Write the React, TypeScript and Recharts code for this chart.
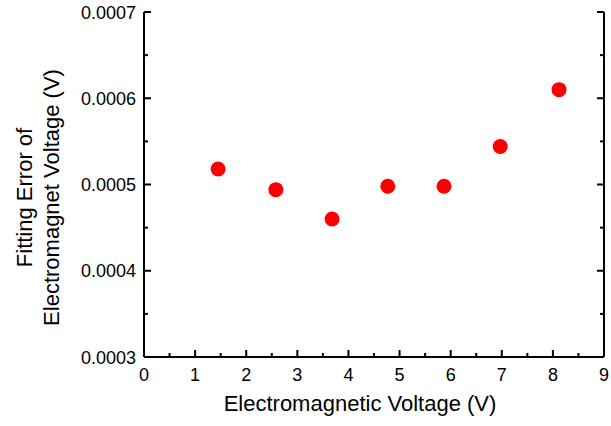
import React from 'react';
import { ScatterChart, Scatter, XAxis, YAxis } from 'recharts';

// Electromagnetic voltage (V)
const voltages = [1.45, 2.58, 3.68, 4.77, 5.87, 6.97, 8.12];
// Fitting error (V)
const errors = [0.000518, 0.000494, 0.00046, 0.000498, 0.000498, 0.000544, 0.00061];

const xTicks = [0, 0.5, 1, 1.5, 2, 2.5, 3, 3.5, 4, 4.5, 5, 5.5, 6, 6.5, 7, 7.5, 8, 8.5, 9];
const yTicks = [0.0003, 0.00035, 0.0004, 0.00045, 0.0005, 0.00055, 0.0006, 0.00065, 0.0007];

const data = voltages.map((v, i) => ({ x: v, y: errors[i] }));

const FONT = '"Liberation Sans", Arial, sans-serif';
const MAJOR = 7;
const MINOR = 4;

const isMajorX = (v: number) => Number.isInteger(v);
const isMajorY = (v: number) => Math.round(v * 1e5) % 10 === 0;

const BottomTick = (props: any) => {
  const { x, y, payload } = props;
  const major = isMajorX(payload.value);
  return (
    <g>
      <line x1={x} x2={x} y1={y} y2={y - (major ? MAJOR : MINOR)} stroke="#000" strokeWidth={2} />
      {major && (
        <text x={x} y={y + 24} textAnchor="middle" fontSize={18} fontFamily={FONT} fill="#000">
          {payload.value}
        </text>
      )}
    </g>
  );
};

const TopTick = (props: any) => {
  const { x, y, payload } = props;
  const major = isMajorX(payload.value);
  return <line x1={x} x2={x} y1={y} y2={y + (major ? MAJOR : MINOR)} stroke="#000" strokeWidth={2} />;
};

const LeftTick = (props: any) => {
  const { x, y, payload } = props;
  const major = isMajorY(payload.value);
  return (
    <g>
      <line x1={x} x2={x + (major ? MAJOR : MINOR)} y1={y} y2={y} stroke="#000" strokeWidth={2} />
      {major && (
        <text x={x - 8} y={y + 6.5} textAnchor="end" fontSize={18} fontFamily={FONT} fill="#000">
          {payload.value.toFixed(4)}
        </text>
      )}
    </g>
  );
};

const RightTick = (props: any) => {
  const { x, y, payload } = props;
  const major = isMajorY(payload.value);
  return <line x1={x} x2={x - (major ? MAJOR : MINOR)} y1={y} y2={y} stroke="#000" strokeWidth={2} />;
};

const YLabel = (props: any) => {
  const { viewBox } = props;
  const cy = viewBox.y + viewBox.height / 2 + 13;
  return (
    <g fontSize={22} fontFamily={FONT} fill="#000">
      <text x={32} y={cy} textAnchor="middle" transform={`rotate(-90, 32, ${cy})`}>
        Fitting Error of
      </text>
      <text x={59} y={cy} textAnchor="middle" transform={`rotate(-90, 59, ${cy})`}>
        Electromagnet Voltage (V)
      </text>
    </g>
  );
};

const XLabel = (props: any) => {
  const { viewBox } = props;
  const cx = viewBox.x + viewBox.width / 2 - 14;
  return (
    <text x={cx} y={411} textAnchor="middle" fontSize={22} fontFamily={FONT} fill="#000">
      Electromagnetic Voltage (V)
    </text>
  );
};

const Dot = (props: any) => <circle cx={props.cx} cy={props.cy} r={7.5} fill="#ff0000" />;

const App: React.FC = () => {
  const axisLine = { stroke: '#000', strokeWidth: 2 };
  return (
    <div style={{ position: 'absolute', left: 0, top: 0, background: '#fff' }}>
      <ScatterChart width={611} height={426} margin={{ top: 12, right: 0, bottom: 0, left: 0 }}>
        <XAxis
          xAxisId="b"
          type="number"
          dataKey="x"
          domain={[0, 9]}
          ticks={xTicks}
          interval={0}
          allowDataOverflow
          orientation="bottom"
          height={69}
          axisLine={axisLine}
          tickLine={false}
          tickSize={0}
          tickMargin={0}
          tick={BottomTick}
          label={{ content: XLabel }}
        />
        <XAxis
          xAxisId="t"
          type="number"
          dataKey="x"
          domain={[0, 9]}
          ticks={xTicks}
          interval={0}
          allowDataOverflow
          orientation="top"
          height={0}
          axisLine={axisLine}
          tickLine={false}
          tickSize={0}
          tickMargin={0}
          tick={TopTick}
        />
        <YAxis
          yAxisId="l"
          type="number"
          dataKey="y"
          domain={[0.0003, 0.0007]}
          ticks={yTicks}
          interval={0}
          allowDataOverflow
          orientation="left"
          width={144}
          axisLine={axisLine}
          tickLine={false}
          tickSize={0}
          tickMargin={0}
          tick={LeftTick}
          label={{ content: YLabel }}
        />
        <YAxis
          yAxisId="r"
          type="number"
          dataKey="y"
          domain={[0.0003, 0.0007]}
          ticks={yTicks}
          interval={0}
          allowDataOverflow
          orientation="right"
          width={7}
          axisLine={axisLine}
          tickLine={false}
          tickSize={0}
          tickMargin={0}
          tick={RightTick}
        />
        <Scatter data={data} xAxisId="b" yAxisId="l" shape={Dot} isAnimationActive={false} />
      </ScatterChart>
    </div>
  );
};

export default App;
